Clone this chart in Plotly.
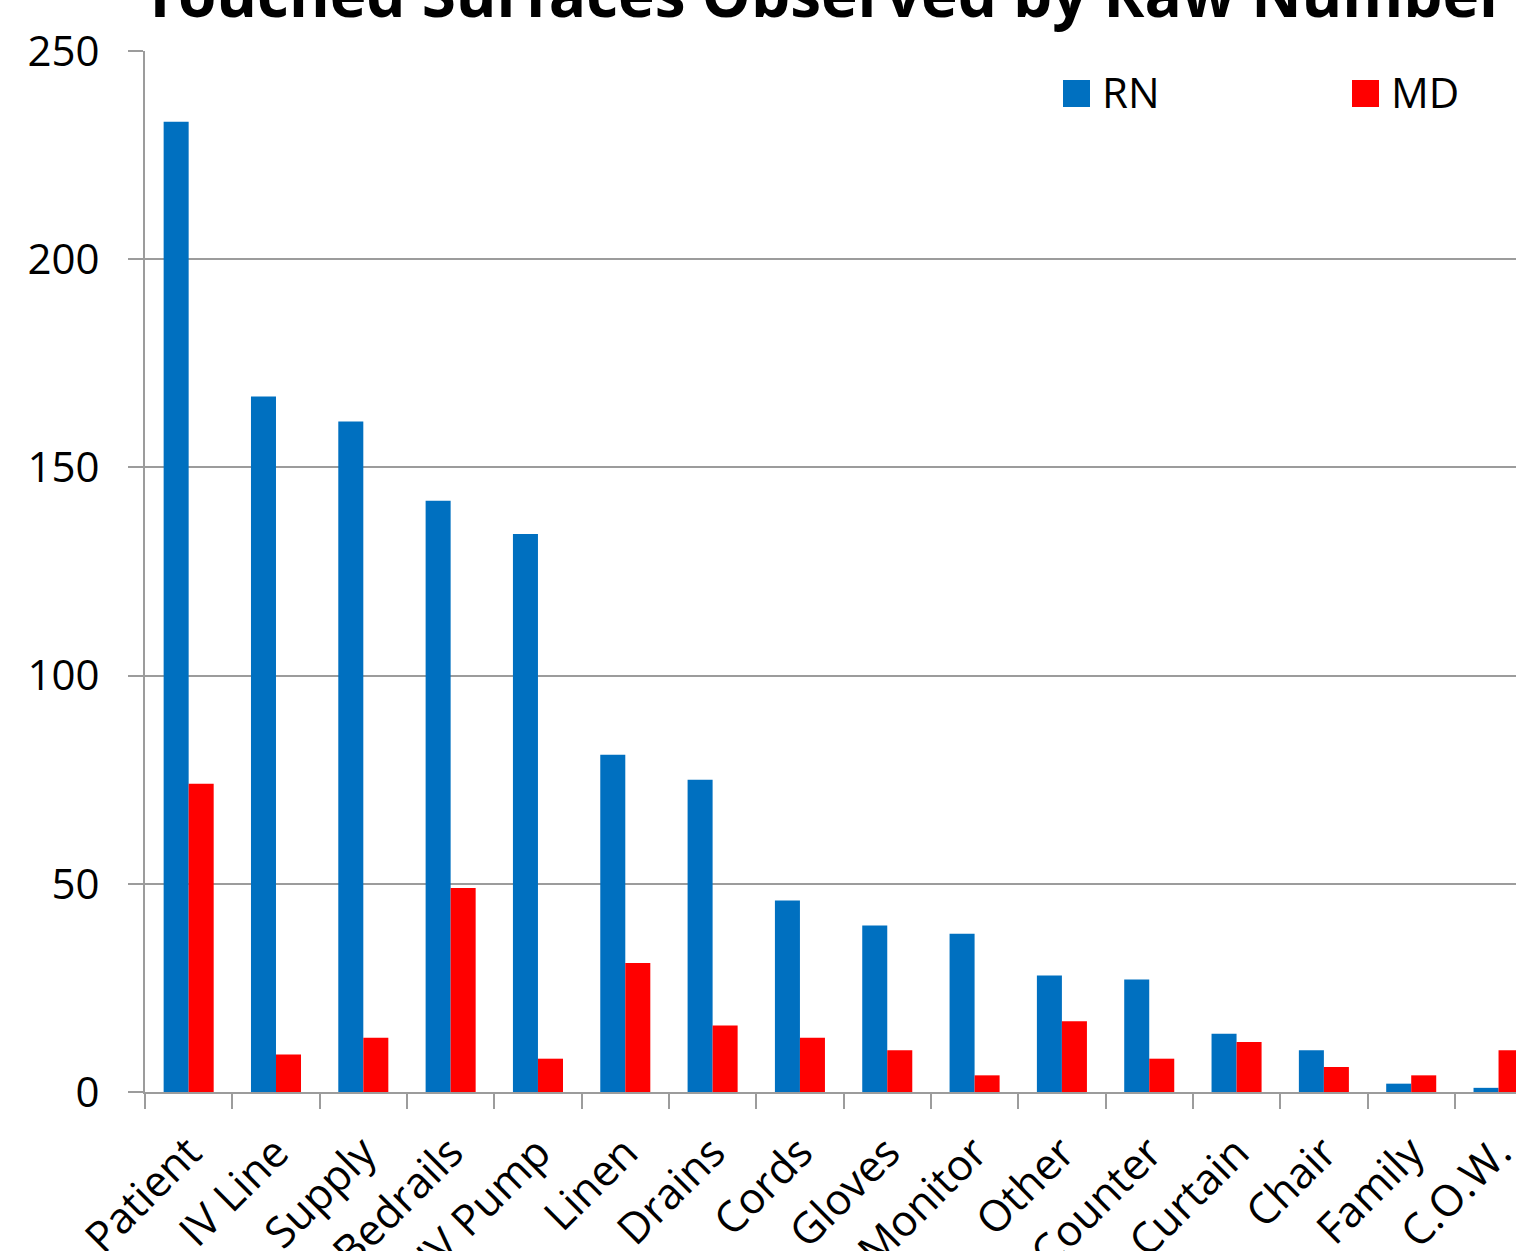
import plotly.graph_objects as go

# Surfaces touched, counted per observation
categories = ["Patient", "IV Line", "Supply", "Bedrails", "IV Pump", "Linen", "Drains",
              "Cords", "Gloves", "Monitor", "Other", "Counter", "Curtain", "Chair",
              "Family", "C.O.W."]
rn_counts = [233, 167, 161, 142, 134, 81, 75, 46, 40, 38, 28, 27, 14, 10, 2, 1]
md_counts = [74, 9, 13, 49, 8, 31, 16, 13, 10, 4, 17, 8, 12, 6, 4, 10]
y_ticks = [0, 50, 100, 150, 200, 250]

RN_COLOR = "#0070C0"
MD_COLOR = "#FF0000"
GRID = "#9c9c9c"
FONT = "Open Sans"

W, H = 1516, 1251
ML, MR, MT, MB = 145, 0, 51, 159
PW, PH = W - ML - MR, H - MT - MB


def px_x(x):
    return (x - ML) / PW


def px_y(y):
    return (H - MB - y) / PH


fig = go.Figure()
fig.add_trace(go.Bar(name="RN", x=categories, y=rn_counts, marker_color=RN_COLOR,
                     marker_line_width=0))
fig.add_trace(go.Bar(name="MD", x=categories, y=md_counts, marker_color=MD_COLOR,
                     marker_line_width=0))

fig.update_layout(
    width=W, height=H,
    margin=dict(l=ML, r=MR, t=MT, b=MB, pad=0),
    paper_bgcolor="white", plot_bgcolor="white",
    barmode="group", bargap=0.427, bargroupgap=0,
    showlegend=False,
    font=dict(family=FONT, color="black", size=42),
)

fig.update_xaxes(
    type="category", range=[-0.5, 15.2],
    tickson="boundaries", ticks="outside", ticklen=15, tickwidth=2, tickcolor=GRID,
    showline=True, linecolor=GRID, linewidth=2,
    showgrid=False, tickangle=-45, automargin=False, ticklabelstandoff=16,
    tickfont=dict(family=FONT, size=43, color="black"),
)
fig.update_yaxes(
    range=[0, 250], tickvals=y_ticks,
    ticks="outside", ticklen=15, tickwidth=2, tickcolor=GRID,
    showline=True, linecolor=GRID, linewidth=2,
    showgrid=True, gridcolor=GRID, gridwidth=2, zeroline=False,
    ticklabelstandoff=20, automargin=False,
    tickfont=dict(family=FONT, size=42, color="black"),
)

# Chart title
fig.add_annotation(
    text="<b>Touched Surfaces Observed by Raw Number</b>",
    xref="paper", yref="paper", x=px_x(824), y=px_y(-7),
    xanchor="center", yanchor="middle", showarrow=False,
    font=dict(family=FONT, size=62, color="black"),
)

# Legend: coloured swatch + series name
for name, color, sx in [("RN", RN_COLOR, 1063), ("MD", MD_COLOR, 1352)]:
    fig.add_shape(type="rect", xref="paper", yref="paper",
                  x0=px_x(sx), x1=px_x(sx + 27), y0=px_y(107), y1=px_y(80),
                  fillcolor=color, line_width=0)
    fig.add_annotation(text=name, xref="paper", yref="paper",
                       x=px_x(sx + 37), y=px_y(92), xanchor="left", yanchor="middle",
                       showarrow=False, font=dict(family=FONT, size=42, color="black"))

fig.write_html("out.html")
